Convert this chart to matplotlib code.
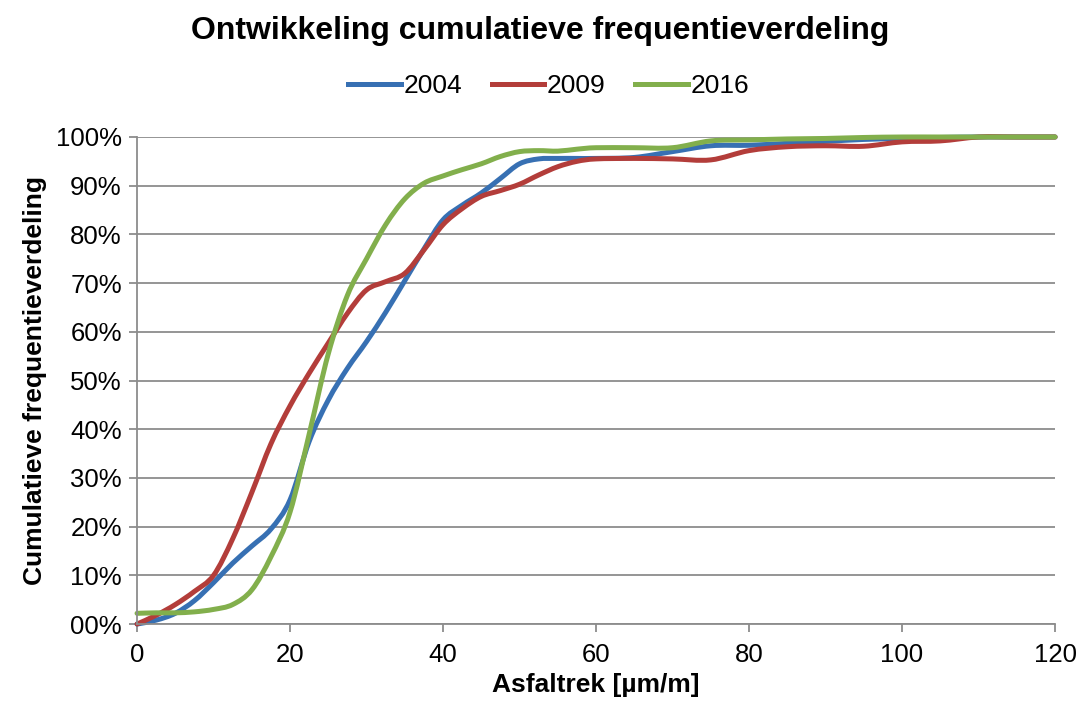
import matplotlib
matplotlib.use("Agg")
import matplotlib.pyplot as plt
from matplotlib.path import Path
from matplotlib.patches import PathPatch
from matplotlib.lines import Line2D
from matplotlib.ticker import FixedLocator

plt.rcParams['font.family'] = ['Liberation Sans', 'DejaVu Sans']

# Asfaltrek [µm/m]
x_fijn = [0, 2.5, 5, 7.5, 10, 12.5, 15, 17.5, 20, 22.5, 25, 27.5, 30, 32.5, 35,
          37.5, 40, 42.5, 45, 47.5, 50, 52.5, 55, 57.5, 60, 65, 70, 75, 80, 85,
          90, 95, 100, 105, 110, 115, 120]

# cumulatieve frequentie [%]
freq_2004 = [0, 0.8, 2.2, 4.8, 8.5, 12.5, 16, 19.5, 25.5, 37.5, 46, 52.5, 58, 64, 70.5,
             77, 83, 86, 88.5, 91.5, 94.5, 95.5, 95.6, 95.6, 95.6, 95.8, 97, 98.2, 98.3, 98.7,
             99.1, 99.5, 99.7, 99.9, 100, 100, 100]
freq_2009 = [0, 1.8, 4, 6.7, 10, 17.5, 27, 37, 44.8, 51.5, 57.7, 63.8, 68.6, 70.3, 72,
             76.8, 82, 85.3, 87.8, 89, 90.3, 92.2, 93.9, 95, 95.5, 95.6, 95.5, 95.3, 97.2, 98,
             98.2, 98.1, 99, 99.2, 100, 100, 100]
freq_2016 = [2.2, 2.3, 2.3, 2.5, 3, 4, 7, 13.8, 23, 39, 55.5, 67.5, 75, 82, 87.3,
             90.5, 92, 93.3, 94.5, 96, 97, 97.2, 97.1, 97.5, 97.8, 97.8, 97.8, 99.2, 99.4, 99.6,
             99.7, 99.9, 100, 100, 100, 100, 100]

jaren = ['2004', '2009', '2016']
kleuren = ['#3770B3', '#B33D3A', '#82AF4C']


def gladde_lijn(xs, ys, t=1 / 6):
    """Vloeiende lijn door de punten (Catmull-Rom als Bezier-curves)."""
    n = len(xs)
    verts = [(xs[0], ys[0])]
    codes = [Path.MOVETO]
    for i in range(n - 1):
        x0, y0 = (xs[i - 1], ys[i - 1]) if i > 0 else (xs[i], ys[i])
        x1, y1 = xs[i], ys[i]
        x2, y2 = xs[i + 1], ys[i + 1]
        x3, y3 = (xs[i + 2], ys[i + 2]) if i + 2 < n else (x2, y2)
        c1 = (x1 + (x2 - x0) * t, y1 + (y2 - y0) * t)
        c2 = (x2 - (x3 - x1) * t, y2 - (y3 - y1) * t)
        verts += [c1, c2, (x2, y2)]
        codes += [Path.CURVE4] * 3
    return Path(verts, codes)


fig = plt.figure(figsize=(10.8, 7.08), dpi=100)
ax = fig.add_axes([0.1269, 0.1186, 0.85, 0.6879])

handles = []
for reeks, jaar, kleur in zip([freq_2004, freq_2009, freq_2016], jaren, kleuren):
    patch = PathPatch(gladde_lijn(x_fijn, reeks), facecolor='none', edgecolor=kleur,
                      lw=3.6, joinstyle='round', capstyle='round', clip_on=False)
    ax.add_patch(patch)
    handles.append(Line2D([], [], color=kleur, lw=3.6, label=jaar))

ax.set_xlim(0, 120)
ax.set_ylim(0, 100)
ax.xaxis.set_major_locator(FixedLocator(range(0, 121, 20)))
ax.yaxis.set_major_locator(FixedLocator(range(0, 101, 10)))
ax.set_yticklabels(['00%'] + [f'{v}%' for v in range(10, 101, 10)])

ax.grid(axis='y', color='#8c8c8c', lw=1.3)
ax.set_axisbelow(True)
for kant in ['top', 'right']:
    ax.spines[kant].set_visible(False)
for kant in ['left', 'bottom']:
    ax.spines[kant].set_color('#8c8c8c')
    ax.spines[kant].set_linewidth(1.3)
ax.tick_params(axis='both', colors='#8c8c8c', length=6, width=1.3,
               labelsize=18.5, labelcolor='black')
ax.tick_params(axis='y', pad=5)
ax.tick_params(axis='x', pad=8)

ax.set_xlabel('Asfaltrek [µm/m]', fontsize=19, fontweight='bold', labelpad=4)
ax.set_ylabel('Cumulatieve frequentieverdeling', fontsize=19, fontweight='bold', labelpad=6)

fig.suptitle('Ontwikkeling cumulatieve frequentieverdeling', fontsize=23,
             fontweight='bold', y=0.978)
fig.legend(handles=handles, loc='center', bbox_to_anchor=(0.508, 0.878), ncol=3,
           frameon=False, fontsize=19, handlelength=2.0, handletextpad=0.1,
           columnspacing=1.1)

fig.savefig('out.png', dpi=100)
